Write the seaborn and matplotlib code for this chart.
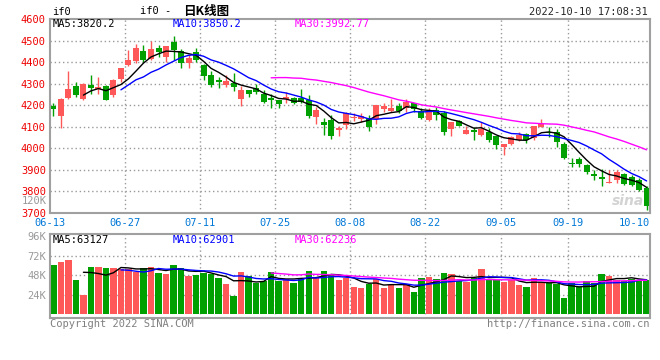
import numpy as np
import pandas as pd
import matplotlib
matplotlib.use('Agg')
import matplotlib.pyplot as plt
import seaborn as sns

# 日K数据 (2022-06-13 ~ 2022-10-10), 每日 开/收/高/低
opens = [4195, 4149, 4235, 4291, 4231, 4295, 4277, 4289, 4246, 4323,
         4385, 4403, 4451, 4415, 4466, 4422, 4492, 4451, 4398, 4446,
         4388, 4342, 4315, 4292, 4305, 4228, 4272, 4282, 4252, 4232,
         4223, 4228, 4232, 4235, 4225, 4146, 4123, 4131, 4085, 4108,
         4140, 4138, 4142, 4134, 4183, 4174, 4197, 4185, 4208, 4172,
         4131, 4178, 4166, 4089, 4126, 4068, 4086, 4063, 4074, 4055,
         4005, 4022, 4040, 4068, 4048, 4100, 4077, 4074, 4018, 3934,
         3951, 3923, 3882, 3866, 3838, 3851, 3882, 3866, 3851, 3815]
closes = [4181, 4231, 4277, 4246, 4300, 4278, 4286, 4226, 4318, 4372,
          4411, 4465, 4411, 4460, 4445, 4474, 4458, 4398, 4420, 4408,
          4334, 4295, 4306, 4311, 4283, 4272, 4251, 4262, 4214, 4225,
          4205, 4237, 4211, 4217, 4152, 4177, 4109, 4057, 4095, 4162,
          4146, 4149, 4100, 4200, 4195, 4185, 4172, 4214, 4182, 4143,
          4169, 4155, 4078, 4120, 4105, 4086, 4078, 4089, 4040, 4017,
          4022, 4051, 4060, 4037, 4102, 4112, 4069, 4031, 3954, 3928,
          3926, 3892, 3872, 3860, 3843, 3892, 3835, 3831, 3805, 3731]
highs = [4208, 4232, 4360, 4309, 4305, 4342, 4332, 4292, 4320, 4374,
         4457, 4482, 4480, 4500, 4480, 4474, 4523, 4462, 4434, 4465,
         4390, 4357, 4331, 4342, 4351, 4289, 4272, 4297, 4269, 4252,
         4223, 4260, 4238, 4274, 4246, 4192, 4143, 4154, 4103, 4170,
         4162, 4162, 4154, 4200, 4208, 4228, 4212, 4231, 4212, 4185,
         4185, 4192, 4175, 4120, 4132, 4105, 4097, 4120, 4094, 4055,
         4022, 4058, 4074, 4071, 4102, 4134, 4097, 4088, 4031, 3954,
         3962, 3928, 3900, 3903, 3900, 3900, 3885, 3877, 3862, 3823]
lows = [4149, 4095, 4228, 4237, 4223, 4251, 4252, 4223, 4237, 4308,
        4383, 4395, 4400, 4408, 4423, 4400, 4408, 4372, 4372, 4400,
        4315, 4285, 4280, 4285, 4265, 4197, 4237, 4251, 4208, 4188,
        4188, 4211, 4205, 4208, 4142, 4115, 4062, 4043, 4057, 4090,
        4128, 4123, 4082, 4112, 4169, 4169, 4162, 4169, 4169, 4134,
        4128, 4131, 4063, 4058, 4102, 4068, 4037, 4058, 4028, 3997,
        3971, 4017, 4032, 4025, 4040, 4098, 4054, 4005, 3949, 3912,
        3915, 3882, 3851, 3826, 3838, 3838, 3831, 3823, 3800, 3715]
# 成交量 (千手)
volumes = [60.1, 64.6, 67.1, 42.5, 24.0, 58.5, 58.5, 57.2, 57.2, 56.0,
           56.0, 52.3, 57.2, 58.5, 51.1, 49.8, 60.9, 57.2, 47.4, 48.6,
           51.1, 49.8, 44.9, 37.5, 22.8, 52.3, 47.4, 38.8, 41.2, 52.3,
           41.2, 43.7, 38.8, 44.9, 53.5, 44.9, 53.5, 48.6, 42.5, 44.9,
           33.8, 32.6, 37.5, 43.7, 32.6, 36.3, 32.6, 37.5, 27.7, 44.9,
           46.2, 43.7, 51.1, 49.8, 41.2, 40.0, 44.9, 56.0, 43.7, 42.5,
           40.0, 42.5, 36.3, 33.8, 44.9, 40.0, 38.8, 37.5, 20.3, 38.8,
           33.8, 41.2, 38.8, 49.8, 47.4, 42.5, 41.2, 43.7, 42.5, 42.5]
date_ticks = [0, 10, 20, 30, 40, 50, 60, 69, 79]
date_labels = ['06-13', '06-27', '07-11', '07-25', '08-08', '08-22', '09-05', '09-19', '10-10']

df = pd.DataFrame({'open': opens, 'close': closes, 'high': highs, 'low': lows,
                   'vol': np.array(volumes) * 1000})
df['idx'] = np.arange(len(df))
for n in (5, 10, 30):
    df['ma%d' % n] = df['close'].rolling(n).mean()
    df['vma%d' % n] = df['vol'].rolling(n).mean()

RED = '#ff5858'
GREEN = '#00a000'
GRID = '#9a9a9a'
BORDER = '#a0a0a0'
colors = [RED if c >= o else GREEN for o, c in zip(df['open'], df['close'])]

sns.set_style('white')
plt.rcParams['font.family'] = ['DejaVu Sans Mono', 'Noto Sans CJK SC']

W, H = 660, 360
fig = plt.figure(figsize=(6.6, 3.6), dpi=100)
ax = fig.add_axes([50 / W, (H - 213) / H, 600 / W, 194 / H])
axv = fig.add_axes([50 / W, (H - 318) / H, 600 / W, 84 / H])

# K线
ax.vlines(df['idx'], df['low'], df['high'], colors=colors, lw=1)
body = np.maximum((df['close'] - df['open']).abs(), 3)
ax.bar(df['idx'], body, bottom=np.minimum(df['open'], df['close']),
       width=0.8, color=colors, linewidth=0)
sns.lineplot(x='idx', y='ma5', data=df, ax=ax, color='black', lw=1)
sns.lineplot(x='idx', y='ma10', data=df, ax=ax, color='blue', lw=1)
sns.lineplot(x='idx', y='ma30', data=df, ax=ax, color='#ff00ff', lw=1)

# 成交量
axv.bar(df['idx'], df['vol'], width=0.85, color=colors, linewidth=0)
sns.lineplot(x='idx', y='vma5', data=df, ax=axv, color='black', lw=1)
sns.lineplot(x='idx', y='vma10', data=df, ax=axv, color='blue', lw=1)
sns.lineplot(x='idx', y='vma30', data=df, ax=axv, color='#ff00ff', lw=1)

grid_x = [t - 0.45 for t in date_ticks[1:-1]]
for a in (ax, axv):
    a.set_xlim(-0.45, 79.45)
    a.set_xlabel('')
    a.set_ylabel('')
    for s in a.spines.values():
        s.set_color(BORDER)
        s.set_linewidth(1.5)
    for gx in grid_x:
        a.axvline(gx, color=GRID, lw=1, ls=(0, (1, 2)), zorder=0)
    a.tick_params(length=0, pad=3)

ax.set_ylim(3700, 4600)
ax.set_yticks(range(3700, 4700, 100))
ax.set_yticklabels([str(v) for v in range(3700, 4700, 100)], color='#ee0000', fontsize=7.5)
for yv in range(3800, 4600, 100):
    ax.axhline(yv, color=GRID, lw=1, ls=(0, (1, 2)), zorder=0)
ax.set_xticks([-0.45] + grid_x + [79.45])
ax.set_xticklabels(date_labels, color='#0078d7', fontsize=7.5)
xl = ax.get_xticklabels()
xl[-1].set_ha('right')
ax.tick_params(axis='x', pad=3.5)

axv.set_ylim(-4300, 98500)
axv.set_yticks([24000, 48000, 72000, 96000])
axv.set_yticklabels(['24K', '48K', '72K', '96K'], color='#999999', fontsize=7.5)
for yv in (24000, 48000, 72000):
    axv.axhline(yv, color=GRID, lw=1, ls=(0, (1, 2)), zorder=0)
axv.set_xticks([])

# 文字
fs = 7.5
fig.text(52 / W, 1 - 12 / H, 'if0', fontsize=fs, va='center', color='black')
fig.text(140 / W, 1 - 11 / H, 'if0 -', fontsize=fs, va='center', color='black')
fig.text(183 / W, 1 - 11 / H, '日K线图', fontsize=9, fontweight='bold', va='center',
         family='Noto Sans CJK SC', color='black')
fig.text(648 / W, 1 - 12 / H, '2022-10-10 17:08:31', fontsize=fs, va='center', ha='right')
fig.text(53 / W, 1 - 24 / H, 'MA5:3820.2', fontsize=fs, va='center', color='black')
fig.text(173 / W, 1 - 24 / H, 'MA10:3850.2', fontsize=fs, va='center', color='blue')
fig.text(295 / W, 1 - 24 / H, 'MA30:3992.77', fontsize=fs, va='center', color='#ff00ff')
fig.text(53 / W, 1 - 240 / H, 'MA5:63127', fontsize=fs, va='center', color='black')
fig.text(173 / W, 1 - 240 / H, 'MA10:62901', fontsize=fs, va='center', color='blue')
fig.text(295 / W, 1 - 240 / H, 'MA30:62236', fontsize=fs, va='center', color='#ff00ff')
fig.text(47 / W, 1 - 201 / H, '120K', fontsize=fs, va='center', ha='right', color='#999999')
fig.text(50 / W, 1 - 324 / H, 'Copyright 2022 SINA.COM', fontsize=fs, va='center', color='#808080')
fig.text(649 / W, 1 - 324 / H, 'http://finance.sina.com.cn', fontsize=fs, va='center',
         ha='right', color='#808080')
fig.text(644 / W, 1 - 201 / H, 'sina', fontsize=10, fontweight='bold', style='italic',
         family='DejaVu Sans', va='center', ha='right', color='#c8c8c8', alpha=0.8)

fig.savefig('out.png', dpi=100)
